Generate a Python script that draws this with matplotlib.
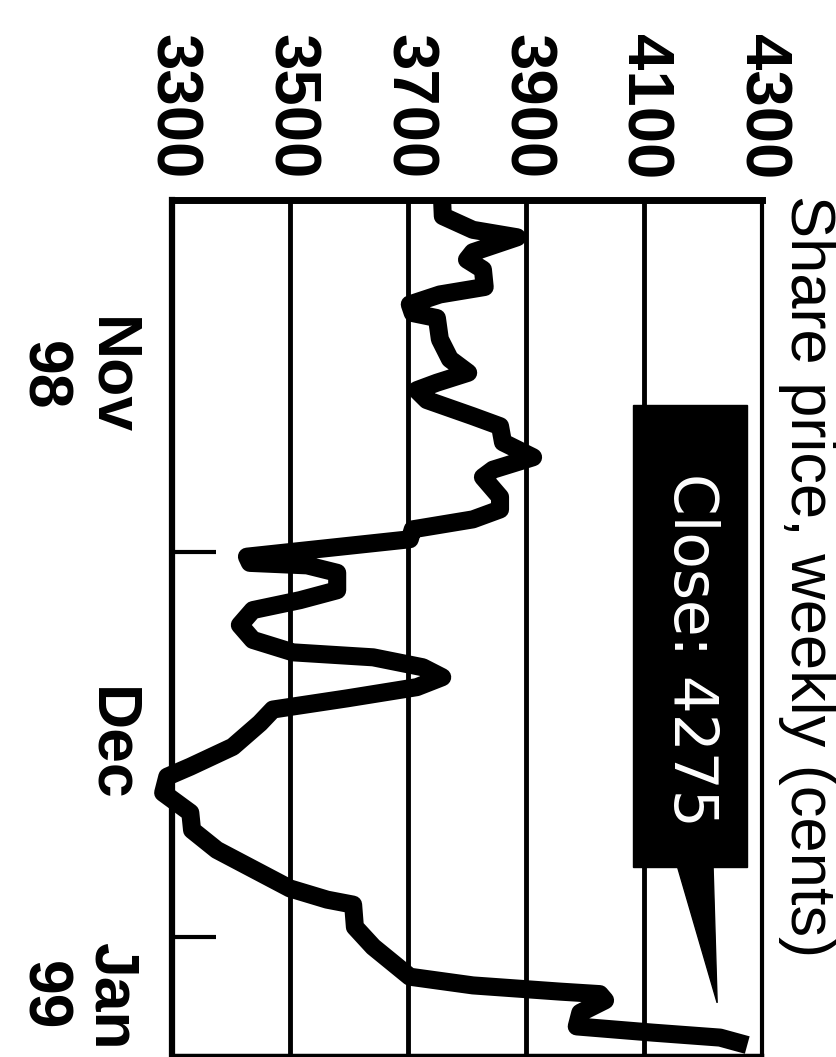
import matplotlib
matplotlib.use("Agg")
import matplotlib.pyplot as plt
from matplotlib.patches import Rectangle, Polygon

plt.rcParams['font.family'] = ['Liberation Sans', 'DejaVu Sans']

# =========================
# data: weekly share price (cents), x = days since 1 Nov 1998
# =========================
days = [1.9, 3.0, 4.1, 4.7, 5.9, 6.5, 7.3, 8.7, 9.3, 10.1, 10.8, 11.2, 12.9, 14.5,
        15.6, 16.4, 17.0, 17.8, 19.1, 19.9, 21.2, 22.4, 23.4, 24.0, 25.6, 26.6,
        27.4, 28.2, 29.0, 29.6, 30.4, 30.9, 31.1, 31.7, 33.1, 33.9, 34.7, 35.9,
        37.1, 38.1, 38.5, 39.3, 40.1, 40.9, 41.8, 42.7, 43.8, 45.7, 47.3, 48.1,
        49.4, 50.2, 51.0, 52.4, 54.0, 55.4, 57.1, 58.0, 58.4, 60.2, 61.8, 64.2,
        64.9, 65.4, 65.6, 66.1, 67.1, 68.2, 68.7, 69.1, 69.7]
price = [3758, 3759, 3810, 3885, 3810, 3800, 3827, 3830, 3754, 3703, 3708, 3749,
         3754, 3771, 3802, 3749, 3715, 3732, 3810, 3856, 3861, 3912, 3844, 3827,
         3856, 3856, 3810, 3708, 3703, 3585, 3427, 3432, 3529, 3580, 3580, 3517,
         3437, 3415, 3437, 3505, 3641, 3725, 3758, 3715, 3597, 3471, 3449, 3403,
         3331, 3292, 3285, 3308, 3331, 3334, 3376, 3432, 3500, 3563, 3607, 3610,
         3641, 3703, 3810, 3958, 4025, 4034, 3992, 3986, 4115, 4229, 4275]

price_ticks = [3300, 3500, 3700, 3900, 4100, 4300]
month_starts = [30, 61]          # 1 Dec, 1 Jan
month_labels = ["Nov\n98", "Dec", "Jan\n99"]
close_label = "Close: 4275"
title = "Share price, weekly (cents)"

day_range = (1.7, 70.5)

# =========================
# figure (chart is printed turned on its side)
# =========================
fig = plt.figure(figsize=(8.37, 10.57), dpi=100)
ax = fig.add_axes([172 / 837, 2 / 1057, 590 / 837, 855 / 1057])

ax.plot(price, days, color="black", lw=13, solid_joinstyle="round",
        solid_capstyle="butt", zorder=5, clip_on=False)

ax.set_xlim(price_ticks[0], price_ticks[-1])
ax.set_ylim(day_range[1], day_range[0])

ax.set_xticks(price_ticks)
ax.xaxis.tick_top()
ax.tick_params(axis="x", length=0, pad=15, labelrotation=-90, labelsize=47,
               labeltop=True, labelbottom=False)
for lab in ax.get_xticklabels():
    lab.set_fontweight("bold")
ax.grid(axis="x", color="black", lw=3.5)

ax.set_yticks(month_starts)
ax.tick_params(axis="y", direction="in", length=32, width=3, labelleft=False)

for side, w in [("top", 5), ("left", 4.5), ("right", 3), ("bottom", 2.5)]:
    ax.spines[side].set_linewidth(w)

# month labels centred on each month's visible span
bounds = [day_range[0]] + month_starts + [day_range[1]]
for i, lab in enumerate(month_labels):
    mid = (bounds[i] + bounds[i + 1]) / 2
    ax.text(-0.054, mid, lab, transform=ax.get_yaxis_transform(), rotation=-90,
            ha="right", va="center", ma="center", fontsize=45,
            fontweight="bold", linespacing=1.2)

# callout box with pointer
ax.add_patch(Rectangle((0.781, 0.220), 0.193, 0.540, transform=ax.transAxes,
                       fc="black", ec="black", clip_on=False, zorder=6))
ax.add_patch(Polygon([(0.856, 0.222), (0.917, 0.222), (0.924, 0.061)],
                     closed=True, transform=ax.transAxes, fc="black",
                     ec="black", clip_on=False, zorder=6))
ax.text(0.878, 0.474, close_label, transform=ax.transAxes, rotation=-90,
        ha="center", va="center", color="white", fontsize=43,
        family=["DejaVu Sans"], zorder=7)

fig.text(807 / 837, 1 - 195 / 1057, title, rotation=-90, ha="center", va="top",
         fontsize=45.5)

plt.savefig("out.png", dpi=100)
plt.close()
